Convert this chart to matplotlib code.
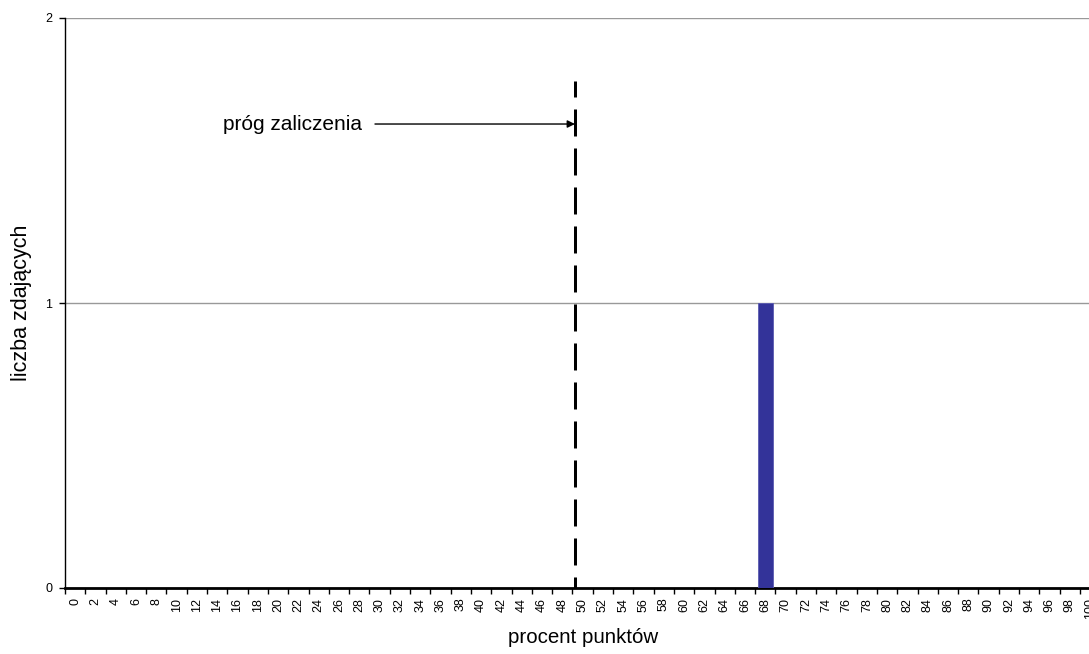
import numpy as np
import matplotlib
matplotlib.use('Agg')
import matplotlib.pyplot as plt

plt.rcParams['font.family'] = ['Liberation Sans', 'DejaVu Sans']

# data
categories = [str(v) for v in range(0, 101, 2)]
counts = [0] * len(categories)
counts[categories.index('68')] = 1
threshold_pos = 24.62  # between 48 and 50 (category index)

fig = plt.figure(figsize=(10.89, 6.54), dpi=100)
ax = fig.add_axes([65 / 1089, 66 / 654, 1035.3 / 1089, 570 / 654])

x = np.arange(len(categories))
ax.bar(x, counts, width=0.74, color='#333399', edgecolor='#5a5ab0', linewidth=0.6, zorder=3)

ax.set_xlim(-0.5, len(categories) - 0.5)
ax.set_ylim(0, 2)
ax.set_yticks([0, 1, 2])
ax.set_yticklabels(['0', '1', '2'], fontsize=9)
ax.yaxis.grid(True, color='#999999', linewidth=1)
ax.set_axisbelow(True)

ax.set_xticks(x)
ax.set_xticklabels(categories, rotation=90, fontsize=9)
ax.tick_params(axis='x', which='major', length=0, pad=7)
ax.set_xticks(np.arange(-0.5, len(categories), 1), minor=True)
ax.tick_params(axis='x', which='minor', length=4, width=1, direction='out')
ax.tick_params(axis='y', length=4, width=1, direction='out', pad=5)

for s in ['top', 'right']:
    ax.spines[s].set_visible(False)
ax.spines['bottom'].set_linewidth(2)
ax.spines['left'].set_linewidth(1)

# threshold line (drawn from the top so the dash pattern starts there)
ax.plot([threshold_pos, threshold_pos], [1.78, 0], color='black', linewidth=2.16,
        linestyle=(3.67, (9, 4)), zorder=4)
ax.annotate('', xy=(threshold_pos, 1.628), xytext=(14.77, 1.628),
            arrowprops=dict(arrowstyle='-|>', color='black', lw=1, mutation_scale=11,
                            shrinkA=0, shrinkB=0))
ax.text(14.13, 1.628, 'próg zaliczenia', fontsize=15, ha='right', va='center')

ax.set_xlabel('procent punktów', fontsize=14.8, labelpad=7)
ax.set_ylabel('liczba zdających', fontsize=15.5, labelpad=10)

fig.savefig('out.png', dpi=100)
